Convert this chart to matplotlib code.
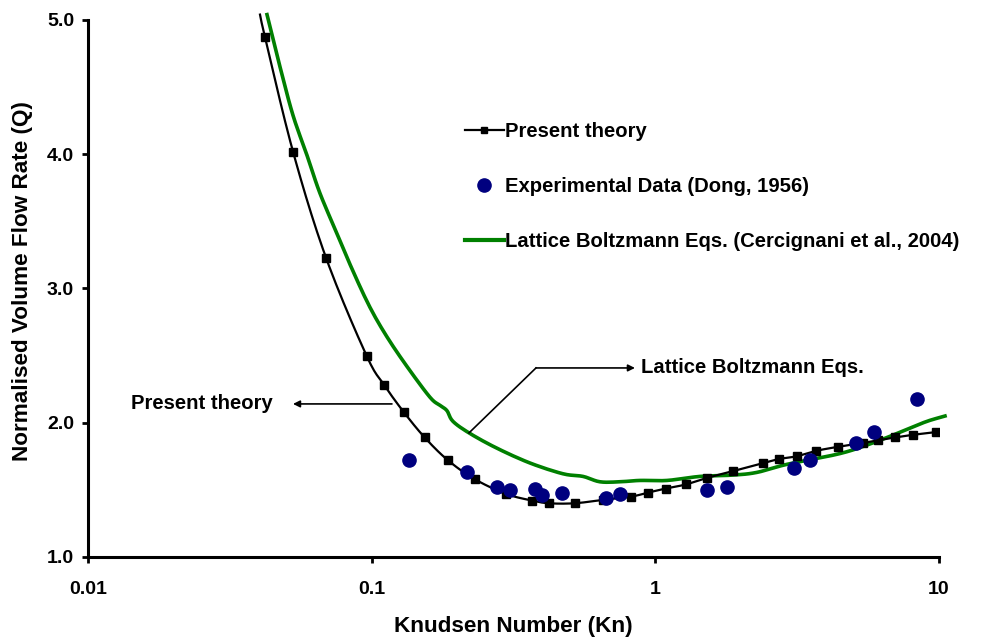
import numpy as np
import matplotlib
matplotlib.use("Agg")
import matplotlib.pyplot as plt

plt.rcParams['font.family'] = ['Liberation Sans', 'DejaVu Sans']
plt.rcParams['font.weight'] = 'bold'

# Present theory (markers)
theory_kn = [0.0421, 0.0528, 0.069, 0.0959, 0.1108, 0.1297, 0.1538, 0.1858, 0.2307,
             0.2974, 0.368, 0.4217, 0.519, 0.653, 0.823, 0.944, 1.089, 1.279, 1.524,
             1.882, 2.40, 2.735, 3.148, 3.68, 4.39, 5.41, 6.11, 6.99, 8.11, 9.73]
theory_q = [4.87, 4.02, 3.23, 2.50, 2.28, 2.08, 1.89, 1.72, 1.58,
            1.47, 1.42, 1.40, 1.40, 1.425, 1.45, 1.48, 1.51, 1.54, 1.59,
            1.64, 1.70, 1.73, 1.75, 1.79, 1.82, 1.85, 1.87, 1.89, 1.91, 1.93]
# curve continues just above the plotted range at the top
theory_line_kn = [0.0404] + theory_kn
theory_line_q = [5.04] + theory_q

# Experimental data (Dong, 1956)
exp_kn = [0.1357, 0.2173, 0.2765, 0.3073, 0.3763, 0.397, 0.4677, 0.670, 0.753,
          1.517, 1.793, 3.088, 3.516, 5.094, 5.91, 8.34]
exp_q = [1.72, 1.63, 1.52, 1.50, 1.51, 1.46, 1.48, 1.44, 1.47,
         1.50, 1.52, 1.66, 1.72, 1.85, 1.93, 2.18]

# Lattice Boltzmann Eqs. (Cercignani et al., 2004)
lbe_kn = [0.04276, 0.04753, 0.0528, 0.0592, 0.0657, 0.0754, 0.0859, 0.0986, 0.1132,
          0.1331, 0.1605, 0.174, 0.1842, 0.1935, 0.222, 0.2765, 0.3614, 0.472, 0.556,
          0.638, 0.750, 0.882, 1.099, 1.436, 1.877, 2.28, 2.91, 4.47, 5.85, 7.71,
          9.06, 10.5]
lbe_q = [5.04, 4.65, 4.29, 3.99, 3.71, 3.41, 3.13, 2.86, 2.64,
         2.42, 2.19, 2.13, 2.09, 2.01, 1.92, 1.81, 1.70, 1.62, 1.60,
         1.56, 1.56, 1.57, 1.57, 1.60, 1.61, 1.63, 1.69, 1.77, 1.85, 1.95,
         2.01, 2.05]

xticks = [0.01, 0.1, 1, 10]
xticklabels = ['0.01', '0.1', '1', '10']
yticks = [1.0, 2.0, 3.0, 4.0, 5.0]
yticklabels = ['1.0', '2.0', '3.0', '4.0', '5.0']

FS = 14.6


def smooth(xs, ys, n=12):
    """Catmull-Rom smoothing in (log10 x, y) space, for drawing only."""
    lx = np.log10(np.asarray(xs, float))
    y = np.asarray(ys, float)
    P = np.column_stack([lx, y])
    P = np.vstack([2 * P[0] - P[1], P, 2 * P[-1] - P[-2]])
    out = []
    t = np.linspace(0, 1, n, endpoint=False)[:, None]
    for i in range(1, len(P) - 2):
        p0, p1, p2, p3 = P[i - 1], P[i], P[i + 1], P[i + 2]
        seg = 0.5 * ((2 * p1) + (-p0 + p2) * t + (2 * p0 - 5 * p1 + 4 * p2 - p3) * t ** 2
                     + (-p0 + 3 * p1 - 3 * p2 + p3) * t ** 3)
        out.append(seg)
    out.append(P[-2][None, :])
    out = np.vstack(out)
    return 10 ** out[:, 0], out[:, 1]


fig = plt.figure(figsize=(9.81, 6.38), dpi=100)
ax = fig.add_axes([0.0897, 0.127, 0.8675, 0.8417])

ax.set_xscale('log')
ax.set_xlim(0.01, 10)
ax.set_ylim(1.0, 5.0)

lx, ly = smooth(lbe_kn, lbe_q, n=6)
ax.plot(lx, ly, color='#008000', lw=2.6, clip_on=False, zorder=2)

tx, ty = smooth(theory_line_kn, theory_line_q)
ax.plot(tx, ty, color='black', lw=1.6, clip_on=False, zorder=3)
ax.plot(theory_kn, theory_q, ls='none', marker='s', ms=5.5, color='black', zorder=4)

ax.plot(exp_kn, exp_q, ls='none', marker='o', ms=9.5, color='#00007f', zorder=5,
        clip_on=False)

# legend handles
h1, = ax.plot([], [], color='black', lw=1.6, marker='s', ms=4.5)
h2, = ax.plot([], [], ls='none', marker='o', ms=9.5, color='#00007f')
h3, = ax.plot([], [], color='#008000', lw=3)
leg = ax.legend([h1, h2, h3],
                ['Present theory', 'Experimental Data (Dong, 1956)',
                 'Lattice Boltzmann Eqs. (Cercignani et al., 2004)'],
                loc='upper left', bbox_to_anchor=(0.443, 0.81), frameon=False,
                prop={'size': FS, 'weight': 'bold'}, handlelength=1.9,
                handletextpad=0.05, labelspacing=1.77, borderpad=0,
                borderaxespad=0)

# annotations
ax.annotate('', xy=(0.0528, 2.14), xytext=(0.1179, 2.14),
            arrowprops=dict(arrowstyle='-|>', color='black', lw=1.2,
                            mutation_scale=10, shrinkA=0, shrinkB=0))
ax.text(0.01418, 2.14, 'Present theory', fontsize=FS, fontweight='bold',
        va='center', ha='left')

ax.plot([0.2203, 0.3795], [1.924, 2.408], color='black', lw=1.2, zorder=3)
ax.annotate('', xy=(0.8474, 2.408), xytext=(0.3795, 2.408),
            arrowprops=dict(arrowstyle='-|>', color='black', lw=1.2,
                            mutation_scale=10, shrinkA=0, shrinkB=0))
ax.text(0.889, 2.408, 'Lattice Boltzmann Eqs.', fontsize=FS, fontweight='bold',
        va='center', ha='left')

# axes styling
for s in ['top', 'right']:
    ax.spines[s].set_visible(False)
for s in ['left', 'bottom']:
    ax.spines[s].set_linewidth(2.2)
ax.set_xticks(xticks)
ax.set_xticklabels(xticklabels)
ax.xaxis.set_minor_locator(matplotlib.ticker.NullLocator())
ax.set_yticks(yticks)
ax.set_yticklabels(yticklabels)
ax.tick_params(axis='both', which='major', direction='out', length=4.5, width=2,
               labelsize=14)
ax.tick_params(axis='y', pad=5.5)
ax.tick_params(axis='x', pad=13)
for lab in ax.get_xticklabels() + ax.get_yticklabels():
    lab.set_fontweight('bold')

ax.set_xlabel('Knudsen Number (Kn)', fontsize=16.2, fontweight='bold', labelpad=13)
ax.set_ylabel('Normalised Volume Flow Rate (Q)', fontsize=16.2, fontweight='bold')
ax.yaxis.set_label_coords(-0.0647, 0.514)

fig.savefig('out.png', dpi=100)
